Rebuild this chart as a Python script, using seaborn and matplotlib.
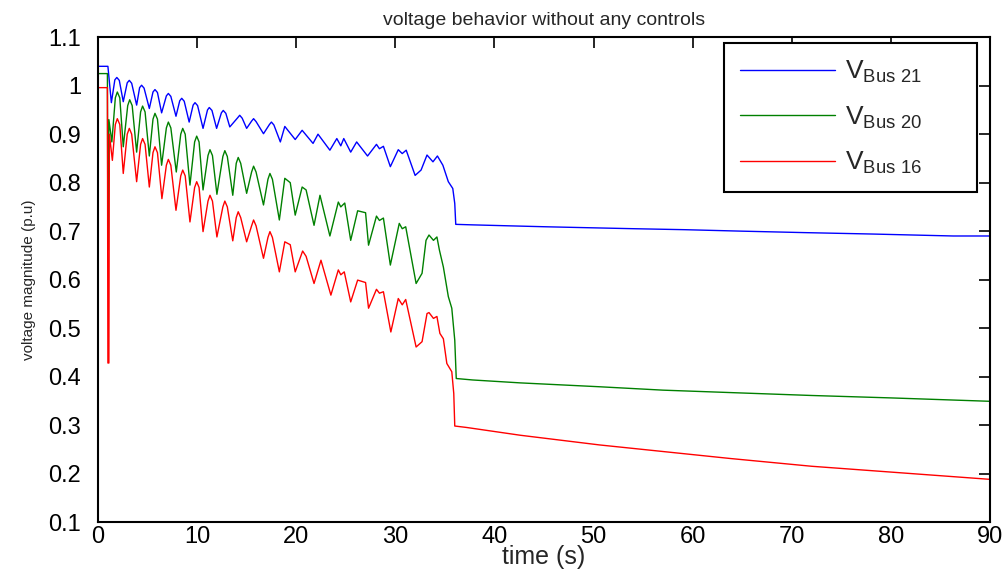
import matplotlib
matplotlib.use("Agg")
import matplotlib.pyplot as plt
import seaborn as sns
import pandas as pd

# values (time in s, voltage in p.u.)
t_bus21 = [0, 1.0, 1.35, 1.7, 1.9, 2.15, 2.55, 2.95, 3.16, 3.4, 3.9, 4.2, 4.4, 4.65, 5.18,
           5.55, 5.75, 6.0, 6.42, 6.9, 7.1, 7.35, 7.87, 8.25, 8.45, 8.7, 9.2, 9.6, 9.79,
           10.05, 10.6, 11.05, 11.23, 11.5, 11.97, 12.45, 12.64, 12.9, 13.3, 14.1, 14.3,
           14.55, 15.0, 15.5, 15.7, 15.95, 16.7, 17.3, 17.5, 17.75, 18.4, 18.85, 19.9, 20.6,
           21.7, 22.2, 23.4, 24.1, 24.5, 24.8, 25.5, 26.1, 27.2, 28.1, 28.4, 28.8, 29.5,
           30.3, 30.7, 31.1, 32.0, 32.6, 33.2, 33.8, 34.25, 34.8, 35.35, 35.8, 36.0, 36.1,
           37.7, 41.4, 45.2, 49.6, 54.1, 59.2, 64.9, 71.2, 78.2, 86.3, 90]
v_bus21 = [1.040, 1.040, 0.965, 1.012, 1.017, 1.011, 0.967, 1.006, 1.011, 1.005, 0.960,
           0.996, 1.001, 0.995, 0.953, 0.987, 0.992, 0.986, 0.944, 0.979, 0.984, 0.978,
           0.937, 0.969, 0.974, 0.968, 0.925, 0.960, 0.965, 0.959, 0.912, 0.950, 0.955,
           0.949, 0.912, 0.944, 0.949, 0.943, 0.915, 0.934, 0.939, 0.933, 0.912, 0.927,
           0.932, 0.926, 0.901, 0.920, 0.925, 0.919, 0.884, 0.916, 0.889, 0.908, 0.881,
           0.900, 0.867, 0.891, 0.876, 0.891, 0.863, 0.884, 0.855, 0.879, 0.870, 0.875,
           0.833, 0.868, 0.860, 0.867, 0.815, 0.826, 0.857, 0.843, 0.855, 0.836, 0.802,
           0.788, 0.757, 0.714, 0.713, 0.711, 0.709, 0.707, 0.705, 0.703, 0.700, 0.697,
           0.694, 0.690, 0.690]

t_bus20 = [0, 0.95, 1.0, 1.1, 1.4, 1.75, 1.95, 2.2, 2.55, 3.0, 3.2, 3.45, 3.9, 4.3, 4.5,
           4.75, 5.18, 5.55, 5.75, 6.0, 6.42, 6.9, 7.1, 7.35, 7.9, 8.35, 8.55, 8.8, 9.28,
           9.75, 9.96, 10.2, 10.6, 11.1, 11.3, 11.55, 12.0, 12.6, 12.8, 13.05, 13.6, 13.95,
           14.15, 14.4, 15.0, 15.5, 15.7, 15.95, 16.7, 17.15, 17.35, 17.6, 18.3, 18.85,
           19.4, 19.9, 20.6, 21.0, 21.8, 22.4, 23.4, 24.25, 24.5, 24.9, 25.5, 26.2, 27.0,
           27.3, 28.1, 28.4, 28.8, 29.5, 30.4, 30.7, 31.05, 32.1, 32.7, 33.1, 33.4, 33.85,
           34.2, 34.45, 34.85, 35.35, 35.7, 36.0, 36.15, 37.8, 42.6, 50.6, 57.0, 63.8,
           72.0, 80.0, 90]
v_bus20 = [1.025, 1.025, 0.661, 0.930, 0.884, 0.975, 0.987, 0.975, 0.874, 0.959, 0.971,
           0.959, 0.863, 0.946, 0.958, 0.946, 0.855, 0.931, 0.943, 0.931, 0.836, 0.913,
           0.925, 0.913, 0.822, 0.900, 0.912, 0.900, 0.795, 0.884, 0.896, 0.884, 0.785,
           0.856, 0.868, 0.856, 0.776, 0.854, 0.866, 0.854, 0.774, 0.840, 0.852, 0.840,
           0.778, 0.822, 0.834, 0.822, 0.754, 0.807, 0.819, 0.807, 0.723, 0.809, 0.800,
           0.733, 0.791, 0.785, 0.712, 0.774, 0.690, 0.760, 0.750, 0.758, 0.681, 0.742,
           0.738, 0.671, 0.731, 0.722, 0.727, 0.630, 0.716, 0.705, 0.709, 0.592, 0.613,
           0.681, 0.692, 0.681, 0.688, 0.661, 0.626, 0.565, 0.541, 0.475, 0.396, 0.393,
           0.387, 0.379, 0.372, 0.367, 0.361, 0.356, 0.349]

t_bus16 = [0, 0.95, 1.0, 1.1, 1.15, 1.45, 1.75, 1.95, 2.2, 2.55, 2.95, 3.16, 3.4, 3.9, 4.3,
           4.5, 4.75, 5.18, 5.55, 5.75, 6.0, 6.45, 6.9, 7.1, 7.35, 7.87, 8.35, 8.55, 8.8,
           9.28, 9.75, 9.96, 10.2, 10.6, 11.1, 11.3, 11.55, 12.0, 12.6, 12.8, 13.05, 13.6,
           13.95, 14.15, 14.4, 15.0, 15.5, 15.7, 15.95, 16.7, 17.15, 17.35, 17.6, 18.3,
           18.85, 19.4, 19.9, 20.65, 21.0, 21.8, 22.5, 23.5, 24.25, 24.5, 24.85, 25.5, 26.2,
           27.0, 27.3, 28.1, 28.4, 28.8, 29.55, 30.3, 30.7, 31.05, 32.1, 32.7, 33.2, 33.4,
           33.85, 34.2, 34.5, 34.85, 35.2, 35.7, 35.9, 36.0, 37.2, 42.6, 50.6, 63.8, 72.0,
           80.0, 90]
v_bus16 = [0.996, 0.996, 0.428, 0.428, 0.900, 0.846, 0.920, 0.932, 0.920, 0.819, 0.900,
           0.912, 0.900, 0.802, 0.879, 0.891, 0.879, 0.791, 0.862, 0.874, 0.862, 0.767,
           0.836, 0.848, 0.836, 0.743, 0.814, 0.826, 0.814, 0.719, 0.790, 0.802, 0.790,
           0.699, 0.762, 0.774, 0.762, 0.688, 0.750, 0.762, 0.750, 0.680, 0.728, 0.740,
           0.728, 0.678, 0.711, 0.723, 0.711, 0.644, 0.687, 0.699, 0.687, 0.616, 0.678,
           0.672, 0.616, 0.659, 0.648, 0.592, 0.640, 0.568, 0.620, 0.610, 0.616, 0.554,
           0.599, 0.594, 0.541, 0.580, 0.572, 0.575, 0.492, 0.561, 0.548, 0.559, 0.461,
           0.472, 0.530, 0.532, 0.520, 0.524, 0.489, 0.478, 0.427, 0.410, 0.365, 0.298,
           0.295, 0.279, 0.259, 0.231, 0.215, 0.203, 0.188]

labels = [r"V$_\mathregular{Bus\ 21}$", r"V$_\mathregular{Bus\ 20}$", r"V$_\mathregular{Bus\ 16}$"]
colors = ["#0000ff", "#008000", "#ff0000"]

frames = []
for lab, t, v in zip(labels, [t_bus21, t_bus20, t_bus16], [v_bus21, v_bus20, v_bus16]):
    frames.append(pd.DataFrame({"time": t, "voltage": v, "bus": lab}))
df = pd.concat(frames, ignore_index=True)

sns.set_style("white")
plt.rcParams["font.family"] = ["Liberation Sans", "DejaVu Sans"]
plt.rcParams["mathtext.fontset"] = "custom"
plt.rcParams["mathtext.rm"] = "Liberation Sans"

fig = plt.figure(figsize=(10.05, 5.71), dpi=100)
ax = fig.add_axes([0.0975, 0.0858, 0.8875, 0.849])

sns.lineplot(data=df, x="time", y="voltage", hue="bus", palette=colors,
             estimator=None, sort=False, linewidth=1.0, ax=ax)

ax.set_xlim(0, 90)
ax.set_ylim(0.1, 1.1)
ax.set_xticks(range(0, 91, 10))
ax.set_yticks([0.1, 0.2, 0.3, 0.4, 0.5, 0.6, 0.7, 0.8, 0.9, 1.0, 1.1])
ax.set_yticklabels(["0.1", "0.2", "0.3", "0.4", "0.5", "0.6", "0.7", "0.8", "0.9", "1", "1.1"])
ax.tick_params(direction="in", length=8, width=1.2, top=True, right=True,
               labelsize=17, colors="black")
ax.tick_params(axis="x", pad=3)
ax.tick_params(axis="y", pad=12)
for s in ax.spines.values():
    s.set_color("black")
    s.set_linewidth(1.5)

ax.set_xlabel("time (s)", fontsize=18, labelpad=-2)
ax.set_ylabel("voltage magnitude (p.u)", fontsize=11, labelpad=9)
ax.set_title("voltage behavior without any controls", fontsize=14, pad=9)

handles, _ = ax.get_legend_handles_labels()
leg_labels = [lab + "      " for lab in labels]
leg = ax.legend(handles, leg_labels, loc="upper right", bbox_to_anchor=(0.985, 0.988),
                borderaxespad=0, fontsize=19, handlelength=3.6, labelspacing=0.72,
                borderpad=0.6, handletextpad=0.4, fancybox=False, framealpha=1,
                edgecolor="black")
leg.get_frame().set_linewidth(1.5)

fig.savefig("out.png", dpi=100)
